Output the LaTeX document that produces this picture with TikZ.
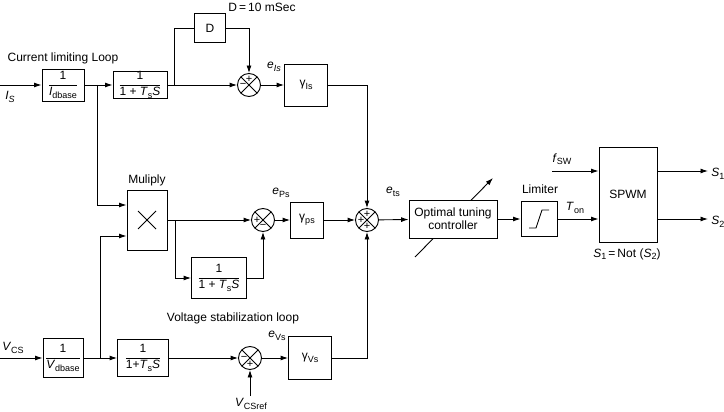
\documentclass[tikz,border=0pt]{standalone}
\usepackage{fontspec}
\setmainfont{Liberation Sans}
\usetikzlibrary{arrows.meta,calc}
\newcommand\sbx[1]{\raisebox{-0.4ex}{\fontsize{9}{9}\selectfont #1}}
\newcommand\fr[2]{$\displaystyle\frac{\mbox{#1}}{\mbox{#2}}$}
\begin{document}
\begin{tikzpicture}[x=1pt,y=-1pt,
  font=\fontsize{12}{14}\selectfont,
  line width=0.9pt,
  >={Latex[length=7.5pt,width=5pt]},
  blk/.style={draw, fill=white, inner sep=0pt, align=center},
  sumj/.style={circle, draw, minimum size=23pt, inner sep=0pt,
    path picture={\draw[line width=0.9pt]
      (path picture bounding box.north west) -- (path picture bounding box.south east)
      (path picture bounding box.north east) -- (path picture bounding box.south west);}},
  sgn/.style={font=\fontsize{11}{11}\selectfont, inner sep=0pt, fill=white, fill opacity=0, text opacity=1},
  lbl/.style={inner sep=0pt}]
\useasboundingbox (0,0) rectangle (724,412);

% ---------- top row: current limiting loop ----------
\coordinate (isin) at (0,85);
\node[lbl] (islab) at (10,97) {\textit{I}\sbx{\textit{S}}};
\node[lbl] (cll) at (63,58) {Current limiting Loop};
\node[blk, minimum width=42pt, minimum height=32pt] (b1) at (63,85) {\fr{1}{\textit{I}\sbx{dbase}}};
\coordinate (j1) at (97,85);
\node[blk, minimum width=54pt, minimum height=26pt] (b2) at (140,85) {\fr{1}{1 + \textit{T}\sbx{s}\textit{S}}};
\coordinate (j2) at (174,85);
\node[blk, minimum width=31pt, minimum height=29pt] (D) at (210,28) {D};
\node[lbl] (dlab) at (262,7) {D\,=\,10 mSec};
\node[sumj] (s1) at (249,85) {};
\node[sgn] (s1a) at ([yshift=6pt]s1.center) {+};
\node[sgn] (s1b) at ([xshift=-6pt]s1.center) {−};
\node[blk, minimum width=43pt, minimum height=42pt] (gIs) at (306,85) {γ\sbx{Is}};
\node[lbl] (eIs) at (274,67) {\textit{e}\sbx{\textit{Is}}};

\draw[->] (isin) -- (b1);
\draw (b1) -- (j1);
\draw[->] (j1) -- (b2);
\draw (b2) -- (j2);
\draw[->] (j2) -- (s1);
\draw (j2) |- (D.west);
\draw[->] (D.east) -| (s1.north);
\draw[->] (s1) -- (gIs);

% ---------- middle row ----------
\node[blk, minimum width=40pt, minimum height=60pt] (mult) at (147,220) {};
\draw[line width=1pt] ($(mult.center)+(-9,-9)$) -- ($(mult.center)+(9,9)$)
                      ($(mult.center)+(9,-9)$) -- ($(mult.center)+(-9,9)$);
\node[lbl] (multlab) at (147,180) {Muliply};
\coordinate (j4) at (175,220);
\node[sumj] (s2) at (263,220) {};
\node[sgn] (s2a) at ([xshift=-6pt]s2.center) {+};
\node[sgn] (s2b) at ([yshift=-6pt]s2.center) {−};
\node[blk, minimum width=55pt, minimum height=41pt] (f2) at (219,278) {\fr{1}{1 + \textit{T}\sbx{s}\textit{S}}};
\node[blk, minimum width=33pt, minimum height=36pt] (gps) at (307,220) {γ\sbx{ps}};
\node[lbl] (ePs) at (281,193) {\textit{e}\sbx{Ps}};
\node[sumj] (s3) at (367,220) {};
\node[sgn] (s3a) at ([yshift=6pt]s3.center) {+};
\node[sgn] (s3b) at ([xshift=-6pt]s3.center) {+};
\node[sgn] (s3c) at ([yshift=-6pt]s3.center) {+};
\node[lbl] (ets) at (393,192) {\textit{e}\sbx{ts}};
\coordinate (d1) at (415,257);
\coordinate (d2) at (493,178);
\draw[->] (d1) -- (d2);
\node[blk, minimum width=88pt, minimum height=38pt] (ctrl) at (453,219) {Optimal tuning\\[-1pt]controller};
\node[blk, minimum width=36pt, minimum height=35pt] (lim) at (539,219) {};
\draw ($(lim.center)+(-10,9)$) -- ($(lim.center)+(-3,9)$) -- ($(lim.center)+(3,-9)$) -- ($(lim.center)+(10,-9)$);
\node[lbl] (limlab) at (540,189) {Limiter};
\node[blk, minimum width=58pt, minimum height=95pt] (spwm) at (628,194.5) {SPWM};
\node[lbl] (ton) at (575,208) {\textit{T}\sbx{on}};
\coordinate (fsw) at (552,171);
\node[lbl] (fswlab) at (562,159) {\textit{f}\sbx{SW}};
\coordinate (o1) at (708,171);
\coordinate (o2) at (708,219);
\node[lbl, anchor=west] (s1lab) at (711,174) {\textit{S}\sbx{1}};
\node[lbl, anchor=west] (s2lab) at (711,222) {\textit{S}\sbx{2}};
\node[lbl] (notlab) at (627,254) {\textit{S}\sbx{1}\,=\,Not (\textit{S}\sbx{2})};

% ---------- bottom row: voltage stabilization loop ----------
\coordinate (vcsin) at (0,358);
\node[lbl] (vcslab) at (13,348) {\textit{V}\sbx{CS}};
\node[blk, minimum width=40pt, minimum height=39pt] (b5) at (63,358) {\fr{1}{\textit{V}\sbx{dbase}}};
\coordinate (j3) at (100,358);
\node[blk, minimum width=51pt, minimum height=37pt] (b6) at (143,358) {\fr{1}{1+\textit{T}\sbx{s}\textit{S}}};
\node[lbl] (vsl) at (233,318) {Voltage stabilization loop};
\node[sumj] (s4) at (250,358) {};
\node[sgn] (s4a) at ([xshift=-6pt]s4.center) {−};
\node[sgn] (s4b) at ([yshift=-6pt]s4.center) {+};
\coordinate (vref) at (250,396);
\node[lbl] (vreflab) at (251,404) {\textit{V}\sbx{CSref}};
\node[blk, minimum width=43pt, minimum height=43pt] (gVs) at (310,358) {γ\sbx{Vs}};
\node[lbl] (eVs) at (277,336) {\textit{e}\sbx{Vs}};

% ---------- connectors ----------
\draw[->] (gIs.east) -| (s3.north);
\draw[->] (j1) |- ([yshift=15pt]mult.west);
\draw[->] (j3) |- ([yshift=-16pt]mult.west);
\draw (mult) -- (j4);
\draw[->] (j4) -- (s2);
\draw[->] (j4) |- (f2.west);
\draw[->] (f2.east) -| (s2.south);
\draw[->] (s2) -- (gps);
\draw[->] (gps) -- (s3);
\draw[->] (s3) -- (ctrl);
\draw[->] (ctrl) -- (lim);
\draw[->] (lim.east) -- (lim.east -| spwm.west);
\draw[->] (fsw) -- (fsw -| spwm.west);
\draw[->] (o1 -| spwm.east) -- (o1);
\draw[->] (o2 -| spwm.east) -- (o2);

\draw[->] (vcsin) -- (b5);
\draw (b5) -- (j3);
\draw[->] (j3) -- (b6);
\draw[->] (b6) -- (s4);
\draw[->] (vref) -- (s4.south);
\draw[->] (s4) -- (gVs);
\draw[->] (gVs.east) -| (s3.south);
\end{tikzpicture}
\end{document}
